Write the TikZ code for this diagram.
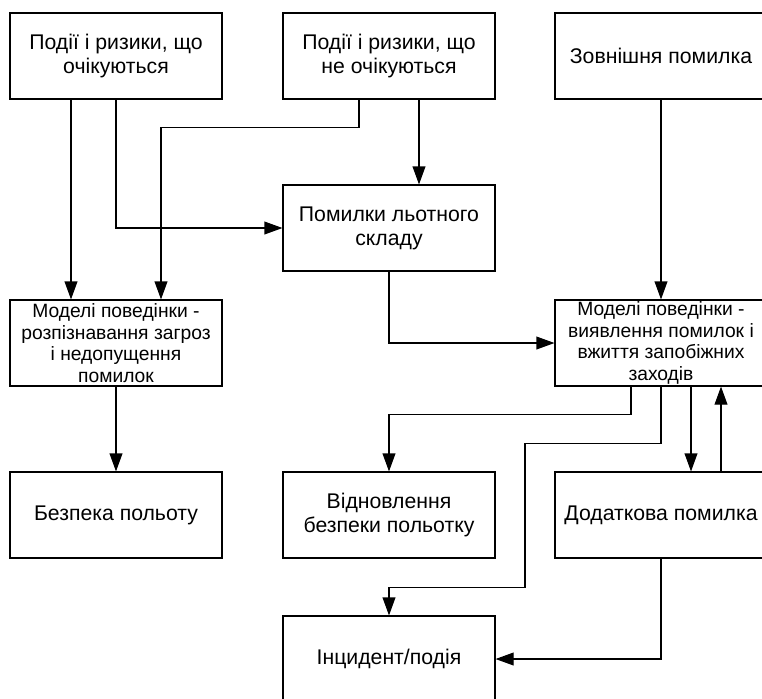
\documentclass[tikz,border=0pt]{standalone}
\usepackage{fontspec}
\setmainfont{Liberation Sans}
\usetikzlibrary{arrows.meta}
\begin{document}
\begin{tikzpicture}[node distance=4.3cm, line width=0.8pt,
    >={Triangle[length=0.45cm,width=0.32cm]},
    block/.style={rectangle, draw, align=center, minimum width=5.3cm, minimum height=2.15cm,
        inner sep=0pt, font=\fontsize{15.1pt}{17pt}\selectfont},
    dense/.style={font=\fontsize{13.7pt}{15.4pt}\selectfont}]
        \useasboundingbox (0,0) rectangle (19.05,-17.45);

        % Top row
        \node[block] (expected) at (2.9,-1.4) {Події і ризики, що\\очікуються};
        \node[block, right of=expected, xshift=2.525cm] (unexpected) {Події і ризики, що\\не очікуються};
        \node[block, right of=unexpected, xshift=2.5cm] (external) {Зовнішня помилка};

        % Crew errors
        \node[block, below of=unexpected] (crew) {Помилки льотного\\складу};

        % Behaviour models
        \node[block, dense, below of=expected, yshift=-2.875cm] (avoid) {Моделі поведінки -\\розпізнавання загроз\\і недопущення\\помилок};
        \node[block, dense, below of=external, yshift=-2.875cm] (trap) {Моделі поведінки -\\виявлення помилок і\\вжиття запобіжних\\заходів};

        % Outcomes
        \node[block, below of=avoid] (safe) {Безпека польоту};
        \node[block, below of=crew, yshift=-2.875cm] (recover) {Відновлення\\безпеки польотку};
        \node[block, below of=trap] (extra) {Додаткова помилка};
        \node[block, below of=recover, yshift=0.7cm] (incident) {Інцидент/подія};

        % Connections
        \draw[->] ([xshift=-1.125cm]expected.south) -- ([xshift=-1.125cm]avoid.north);
        \draw[->] (expected.south) |- (crew.west);
        \draw[->] ([xshift=-0.75cm]unexpected.south) -- ++(0,-0.7) -| ([xshift=1.125cm]avoid.north);
        \draw[->] ([xshift=0.75cm]unexpected.south) -- ([xshift=0.75cm]crew.north);
        \draw[->] (external.south) -- (trap.north);
        \draw[->] (crew.south) |- (trap.west);
        \draw[->] (avoid.south) -- (safe.north);
        \draw[->] ([xshift=-0.75cm]trap.south) -- ++(0,-0.7) -| (recover.north);
        \draw[->] (trap.south) -- ++(0,-1.425) -| ++(-3.4,-3.6) -| (incident.north);
        \draw[->] ([xshift=0.75cm]trap.south) -- ([xshift=0.75cm]extra.north);
        \draw[->] ([xshift=1.5cm]extra.north) -- ([xshift=1.5cm]trap.south);
        \draw[->] (extra.south) |- (incident.east);
    \end{tikzpicture}
\end{document}
